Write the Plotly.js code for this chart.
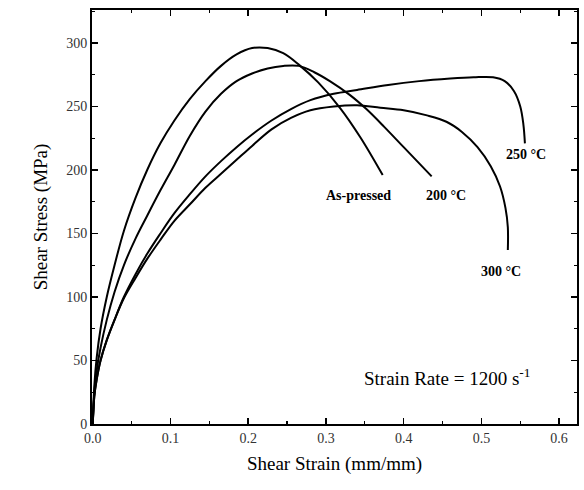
<!DOCTYPE html>
<html>
<head>
<meta charset="utf-8">
<script src="https://cdn.plot.ly/plotly-3.0.1.min.js"></script>
<style>html,body{margin:0;padding:0;background:#fff;}#chart{width:584px;height:490px;}</style>
</head>
<body>
<div id="chart"></div>
<script>
// Series data (shear strain, shear stress in MPa)
var asPressedX = [0, 0.002, 0.005, 0.010, 0.018, 0.028, 0.040, 0.055, 0.070, 0.087, 0.105, 0.125, 0.145, 0.165, 0.185, 0.205, 0.225, 0.245, 0.265, 0.290, 0.318, 0.344, 0.373];
var asPressedY = [0, 30, 52, 75, 100, 125, 152, 178, 200, 221, 239, 256, 270, 282, 291, 296, 296, 292, 283, 269, 249, 226, 196];

var c200X = [0, 0.002, 0.005, 0.010, 0.018, 0.028, 0.040, 0.055, 0.070, 0.087, 0.105, 0.125, 0.145, 0.165, 0.185, 0.205, 0.225, 0.245, 0.265, 0.285, 0.305, 0.331, 0.352, 0.375, 0.400, 0.436];
var c200Y = [0, 25, 42, 60, 82, 104, 125, 146, 164, 184, 204, 227, 246, 260, 270, 276, 280, 282, 282, 277, 270, 259, 248, 234, 218, 195];

var c250X = [0, 0.002, 0.005, 0.010, 0.018, 0.028, 0.040, 0.055, 0.070, 0.087, 0.105, 0.125, 0.145, 0.165, 0.185, 0.205, 0.230, 0.255, 0.280, 0.310, 0.340, 0.380, 0.420, 0.460, 0.490, 0.515, 0.530, 0.542, 0.550, 0.554, 0.556];
var c250Y = [0, 22, 35, 50, 66, 82, 100, 118, 134, 150, 166, 181, 195, 207, 218, 228, 239, 248, 255, 260, 263, 267, 270, 272, 273, 273, 270, 262, 250, 236, 221];

var c300X = [0, 0.002, 0.005, 0.010, 0.018, 0.028, 0.040, 0.055, 0.070, 0.087, 0.105, 0.125, 0.145, 0.165, 0.185, 0.205, 0.230, 0.255, 0.280, 0.310, 0.340, 0.370, 0.400, 0.430, 0.455, 0.475, 0.495, 0.512, 0.524, 0.531, 0.534, 0.534];
var c300Y = [0, 22, 35, 50, 66, 82, 99, 115, 130, 145, 160, 173, 186, 197, 208, 219, 232, 241, 247, 250, 251, 249, 247, 243, 238, 230, 218, 203, 187, 170, 155, 137];

// Curve labels
var labelTexts = ["As-pressed", "200 \u00B0C", "250 \u00B0C", "300 \u00B0C"];
var labelX = [0.342, 0.454, 0.557, 0.525];
var labelY = [180, 180, 212, 120];

var noteText = "Strain Rate = 1200 s<sup>-1</sup>";
var noteX = 0.456, noteY = 37;

var xTickVals = [0, 0.1, 0.2, 0.3, 0.4, 0.5, 0.6];
var xTickText = ["0.0", "0.1", "0.2", "0.3", "0.4", "0.5", "0.6"];
var yTickVals = [0, 50, 100, 150, 200, 250, 300];
var yTickText = ["0", "50", "100", "150", "200", "250", "300"];

var serif = "Liberation Serif, Times New Roman, serif";
var lineStyle = {color: "#000", width: 2, shape: "spline", smoothing: 1};

function trace(x, y, name) {
  return {x: x, y: y, name: name, type: "scatter", mode: "lines", line: lineStyle, hoverinfo: "skip", showlegend: false};
}

var data = [
  trace(asPressedX, asPressedY, "As-pressed"),
  trace(c200X, c200Y, "200 C"),
  trace(c250X, c250Y, "250 C"),
  trace(c300X, c300Y, "300 C")
];

var annotations = labelTexts.map(function (t, i) {
  return {x: labelX[i], y: labelY[i], xref: "x", yref: "y", text: "<b>" + t + "</b>", showarrow: false,
    font: {family: serif, size: 14, color: "#000"}};
});
annotations.push({x: noteX, y: noteY, xref: "x", yref: "y", text: noteText, showarrow: false,
  font: {family: serif, size: 19, color: "#000"}});

var axisCommon = {
  showline: true, linecolor: "#000", linewidth: 2, mirror: "allticks",
  ticks: "inside", ticklen: 6, tickwidth: 1.5, tickcolor: "#000",
  showgrid: false, zeroline: false,
  tickfont: {family: serif, size: 14, color: "#333"},
  minor: {ticks: "inside", ticklen: 3, tickwidth: 1.2, tickcolor: "#000", showgrid: false}
};

var layout = {
  width: 584, height: 490,
  margin: {l: 92, r: 7, t: 10, b: 66},
  paper_bgcolor: "#fff", plot_bgcolor: "#fff",
  showlegend: false,
  xaxis: Object.assign({}, axisCommon, {
    range: [-0.001, 0.623], tickmode: "array", tickvals: xTickVals, ticktext: xTickText,
    minor: Object.assign({}, axisCommon.minor, {dtick: 0.05, tick0: 0}),
    title: {text: "Shear Strain (mm/mm)", font: {family: serif, size: 19, color: "#000"}, standoff: 12}
  }),
  yaxis: Object.assign({}, axisCommon, {
    range: [0, 326], tickmode: "array", tickvals: yTickVals, ticktext: yTickText,
    minor: Object.assign({}, axisCommon.minor, {dtick: 25, tick0: 0}),
    title: {text: "Shear Stress (MPa)", font: {family: serif, size: 19, color: "#000"}, standoff: 14}
  }),
  annotations: annotations
};

Plotly.newPlot("chart", data, layout, {staticPlot: true, displayModeBar: false});
</script>
</body>
</html>
